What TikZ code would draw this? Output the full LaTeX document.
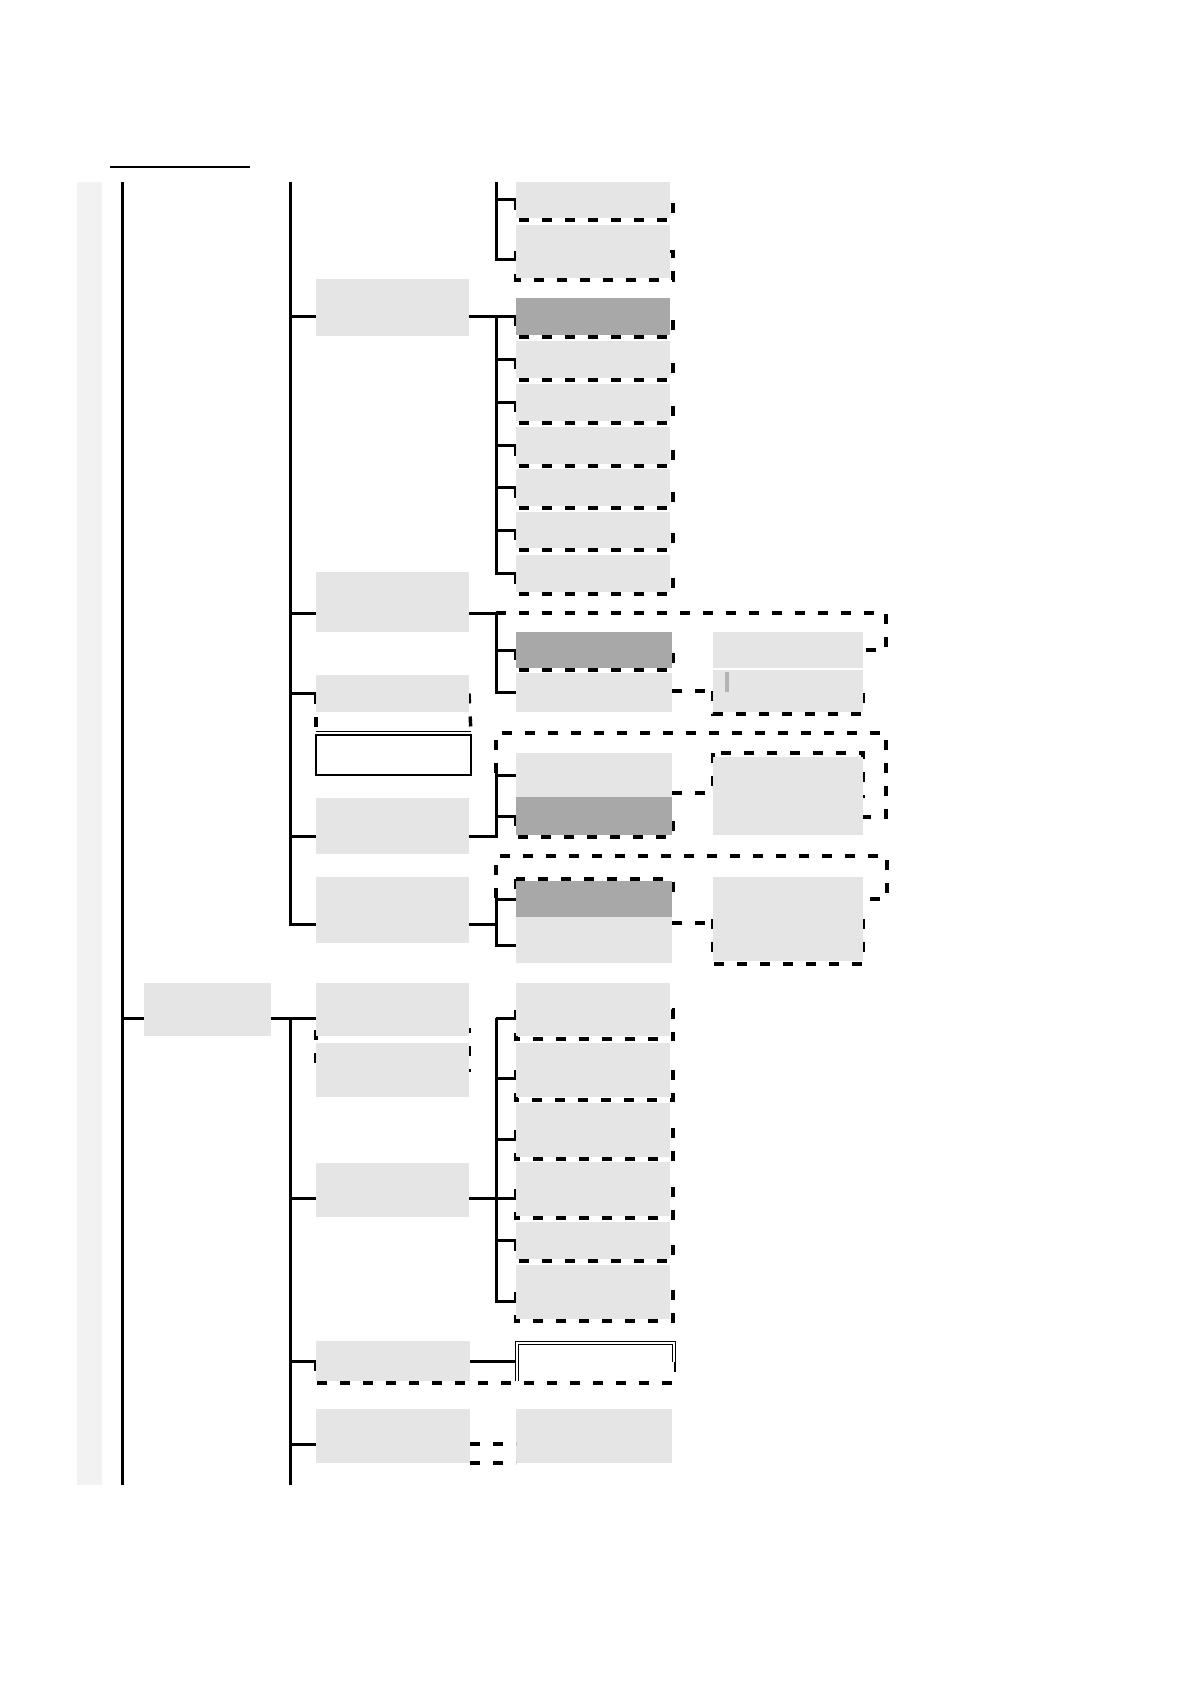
\documentclass[tikz,border=0pt]{standalone}
\usepackage{xcolor}
\definecolor{cBox}{HTML}{E5E5E5}
\definecolor{cHatch}{HTML}{A8A8A8}
\definecolor{cStrip}{HTML}{F2F2F2}
\definecolor{cMark}{HTML}{B3B3B3}
\usepackage{tikz}
\usetikzlibrary{fit,backgrounds,calc}
\tikzset{
  node-box/.style={fill=cBox,inner sep=0pt,outer sep=0pt},
  node-hatch/.style={fill=cHatch,inner sep=0pt,outer sep=0pt},
  node-open/.style={fill=white,inner sep=0pt,outer sep=0pt},
  link/.style={line width=1.5pt,draw=black},
  link-dash/.style={line width=1.7pt,draw=black,dash pattern=on 5pt off 6.5pt},
  link-double/.style={line width=0.5pt,draw=black,double=white,double distance=0.8pt},
  fine/.style={line width=0.6pt,draw=black},
}

\begin{document}
\begin{tikzpicture}[x=0.5pt,y=-0.5pt]
  \useasboundingbox (0,0) rectangle (1190,1684);
  % level 1 / level 2
  \node[node-box,fit={(144,983)(271,1036)}] (l1) {};
  \node[node-box,fit={(316,279)(469,336)}] (l2a) {};
  \node[node-box,fit={(316,572)(469,632)}] (l2b) {};
  \node[node-box,fit={(316,675)(469,712)}] (l2c) {};
  \node[node-open,draw,line width=0.9pt,fit={(316,735)(471,775)}] (l2w) {};
  \node[node-box,fit={(316,798)(469,854)}] (l2d) {};
  \node[node-box,fit={(316,877)(469,943)}] (l2e) {};
  \node[node-box,fit={(316,983)(469,1036)}] (f) {};
  \node[node-box,fit={(316,1043)(469,1097)}] (f2) {};
  \node[node-box,fit={(316,1163)(469,1217)}] (g) {};
  \node[node-box,fit={(316,1341)(470,1381)}] (h) {};
  \node[node-open,fit={(517,1343)(674,1381)}] (h2) {};
  \node[node-box,fit={(316,1409)(470,1463)}] (i) {};
  \node[node-box,fit={(516,1409)(672,1463)}] (i2) {};
  % leaves, upper part
  \node[node-box,fit={(516,182)(670,218)}] (a1) {};
  \node[node-box,fit={(516,225)(670,278)}] (a2) {};
  \node[node-hatch,fit={(516,298)(670,335)}] (b1) {};
  \node[node-box,fit={(516,341)(670,378)}] (b2) {};
  \node[node-box,fit={(516,384)(670,421)}] (b3) {};
  \node[node-box,fit={(516,427)(670,464)}] (b4) {};
  \node[node-box,fit={(516,469)(670,506)}] (b5) {};
  \node[node-box,fit={(516,512)(670,548)}] (b6) {};
  \node[node-box,fit={(516,555)(670,592)}] (b7) {};
  \node[node-hatch,fit={(516,632)(672,668)}] (c1) {};
  \node[node-box,fit={(516,673)(672,712)}] (c2) {};
  \node[node-box,fit={(713,632)(863,668)}] (c3) {};
  \node[node-box,fit={(713,670)(863,712)}] (c4) {};
  \node[node-box,fit={(516,753)(672,797)}] (d1) {};
  \node[node-hatch,fit={(516,797)(672,835)}] (d2) {};
  \node[node-box,fit={(713,757)(863,835)}] (d3) {};
  \node[node-hatch,fit={(516,881)(672,917)}] (e1) {};
  \node[node-box,fit={(516,917)(672,963)}] (e2) {};
  \node[node-box,fit={(713,877)(863,961)}] (e3) {};
  % leaves, lower part
  \node[node-box,fit={(516,983)(670,1036)}] (m1) {};
  \node[node-box,fit={(516,1043)(670,1097)}] (m2) {};
  \node[node-box,fit={(516,1103)(670,1157)}] (m3) {};
  \node[node-box,fit={(516,1162)(670,1216)}] (m4) {};
  \node[node-box,fit={(516,1222)(670,1259)}] (m5) {};
  \node[node-box,fit={(516,1265)(670,1319)}] (m6) {};
  \fill[cMark] (725,672) rectangle (729,692);

  \coordinate (t1) at (122,182);
  \coordinate (t1end) at (122,1485);
  \coordinate (t2) at (290,182);
  \coordinate (t2end) at (290,1485);
  \coordinate (tA) at (496,182);
  \coordinate (tB) at (496,317);
  \coordinate (tC) at (496,613);
  \coordinate (tD) at (496,773);
  \coordinate (tE) at (496,898);
  \coordinate (tM) at (496,1018);
  \coordinate (fx) at (886,0);
  \coordinate (fD) at (886,733);
  \coordinate (fE) at (887,856);

  \draw[fine] (110,167) -- (250,167);
  \draw[link] (t1) -- (t1end);
  \draw[link] (t1end) |- ([yshift=-4.25pt]l1.west);
  \draw[link] ([yshift=-4.25pt]l1.east) -- ([yshift=-4.25pt]f.west);
  \draw[link] (t2) |- ([yshift=-4.75pt]l2a.west);
  \draw[link] (t2) |- ([yshift=-5.5pt]l2b.west);
  \draw[link] (t2) |- (l2c.west);
  \draw[link] (t2) |- ([yshift=-5pt]l2d.west);
  \draw[link] (t2) |- ([yshift=-7pt]l2e.west);
  \draw[link] (t2end) |- ([yshift=-4.25pt]f.west);
  \draw[link] (t2end) |- ([yshift=-4pt]g.west);
  \draw[link] (t2end) |- (h.west);
  \draw[link] (t2end) |- ([yshift=-4pt]i.west);
  \draw[link] (h.east) -- (h.east -| h2.west);
  % group A, B
  \draw[link] (tA) |- (a1.west);
  \draw[link] (tA) |- ([yshift=-4.25pt]a2.west);
  \draw[link] (tB -| l2a.east) -- (tB);
  \draw[link] (tB) |- (b1.west);
  \draw[link] (tB) |- (b2.west);
  \draw[link] (tB) |- (b3.west);
  \draw[link] (tB) |- (b4.west);
  \draw[link] (tB) |- (b5.west);
  \draw[link] (tB) |- (b6.west);
  \draw[link] (tB) |- (b7.west);
  % group C, D, E
  \draw[link] (tC -| l2b.east) -- (tC);
  \draw[link] (tC) |- (c1.west);
  \draw[link] (tC) |- (c2.west);
  \draw[link] ([yshift=-5pt]l2d.east) -| (tD);
  \draw[link] (tD) |- (d1.west);
  \draw[link] (tD) |- (d2.west);
  \draw[link] ([yshift=-7pt]l2e.east) -| (tE);
  \draw[link] (tE) |- (e1.west);
  \draw[link] (tE) |- ([yshift=-2.5pt]e2.west);
  \draw[link-dash] (tC) -- (tC -| fx) |- (c3.east);
  \draw[link-dash] (tD) |- (fD) |- ([yshift=-10.5pt]d3.east);
  \draw[link-dash] (tE) |- (fE) |- ([yshift=10pt]e3.east);
  \draw[link-dash] (c4.west -| c2.east) -- (c4.west);
  \draw[link-dash] ([yshift=1.5pt]d3.west -| d1.east) -- ([yshift=1.5pt]d3.west);
  \draw[link-dash] ([yshift=-2pt]e3.west -| e2.east) -- ([yshift=-2pt]e3.west);
  \draw[link-dash] ([yshift=-4pt]i.east) -- ([yshift=-4pt]i2.west);
  \draw[link-dash] (i.south east) -- (i2.south west);
  % group M
  \draw[link] ([yshift=-4pt]g.east) -| (tM);
  \draw[link] (tM) |- ([yshift=-4.25pt]m1.west);
  \draw[link] (tM) |- ([yshift=-4pt]m2.west);
  \draw[link] (tM) |- ([yshift=-4.5pt]m3.west);
  \draw[link] (tM) |- ([yshift=-4.5pt]m4.west);
  \draw[link] (tM) |- (m5.west);
  \draw[link] (tM) |- ([yshift=-4.5pt]m6.west);
  \draw[fine,line width=0.5pt] ([yshift=1.7pt]l2w.north west) -- ([yshift=1.7pt]l2w.north east);
  \draw[link-double] (h2.south west) |- (h2.north east) -- (h2.east);

  \begin{scope}[on background layer]
    \fill[cStrip] (77,182) rectangle (102,1485);
    \draw[link-dash] (a1.west) rectangle ([xshift=1.5pt,yshift=-1pt]a1.south east);
    \draw[link-dash] (a2.west) rectangle ([xshift=1.5pt,yshift=-1pt]a2.south east);
    \draw[link-dash] (b1.west) rectangle ([xshift=1.5pt,yshift=-1pt]b1.south east);
    \draw[link-dash] (b2.west) rectangle ([xshift=1.5pt,yshift=-1pt]b2.south east);
    \draw[link-dash] (b3.west) rectangle ([xshift=1.5pt,yshift=-1pt]b3.south east);
    \draw[link-dash] (b4.west) rectangle ([xshift=1.5pt,yshift=-1pt]b4.south east);
    \draw[link-dash] (b5.west) rectangle ([xshift=1.5pt,yshift=-1pt]b5.south east);
    \draw[link-dash] (b6.west) rectangle ([xshift=1.5pt,yshift=-1pt]b6.south east);
    \draw[link-dash] (b7.west) rectangle ([xshift=1.5pt,yshift=-1pt]b7.south east);
    \draw[link-dash] (c1.west) rectangle ([xshift=0.5pt,yshift=-1pt]c1.south east);
    \draw[link-dash] (d2.west) rectangle ([xshift=0.5pt,yshift=-1pt]d2.south east);
    \draw[link-dash] (m1.west) rectangle ([xshift=1.5pt,yshift=-1.5pt]m1.south east);
    \draw[link-dash] (m2.west) rectangle ([xshift=1.5pt,yshift=-1.5pt]m2.south east);
    \draw[link-dash] (m3.west) rectangle ([xshift=1.5pt,yshift=-1pt]m3.south east);
    \draw[link-dash] (m4.west) rectangle ([xshift=1.5pt,yshift=-1pt]m4.south east);
    \draw[link-dash] (m5.west) rectangle ([xshift=1.5pt,yshift=-1pt]m5.south east);
    \draw[link-dash] (m6.west) rectangle ([xshift=1.5pt,yshift=-1pt]m6.south east);
    \draw[link-dash] (c4.west) rectangle ([yshift=-1pt]c4.south east);
    \draw[link-dash] ([yshift=1pt]e1.north west) rectangle ([xshift=0.5pt]e1.east);
    \draw[link-dash] ([yshift=2pt]d3.north west) rectangle (d3.east);
    \draw[link-dash] (e3.west) rectangle ([yshift=-1.5pt]e3.south east);
    \draw[link-dash] ([yshift=3pt]f.south west) rectangle (f2.east);
    \draw[link-dash] (l2c.west) -- ([yshift=1pt]l2w.north west);
    \draw[link-dash] (l2c.east) -- ([yshift=1pt]l2w.north east);
    \draw[link-dash] (h.west) |- ([yshift=-1pt]h2.south east) -- (h2.east);
  \end{scope}
\end{tikzpicture}
\end{document}
